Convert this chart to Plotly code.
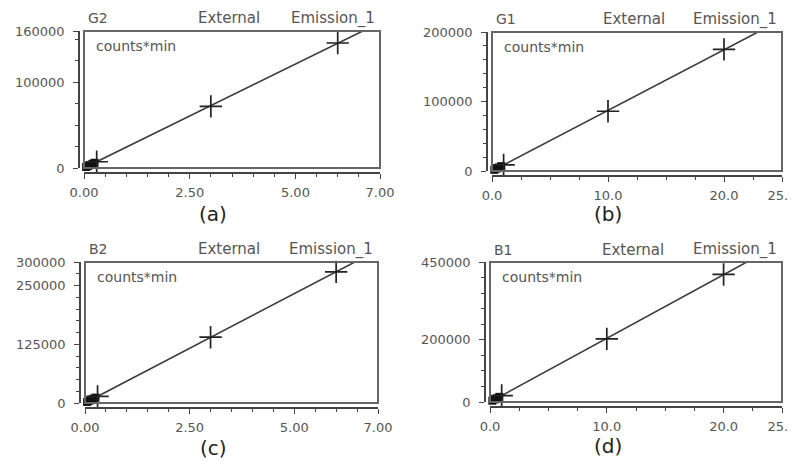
import numpy as np
import plotly.graph_objects as go

# page body has an 8px margin, so the figure is drawn 8px in from the window corner
OFF = 8
W, H = 795 - OFF, 461 - OFF

# ---------------- data ----------------
panel_names = ["G2", "G1", "B2", "B1"]
panel_captions = ["(a)", "(b)", "(c)", "(d)"]
header_mid = "External"
header_right = "Emission_1"
inner_label = "counts*min"

# low-concentration calibration points (dense cluster near origin)
a_low_x = [0.05, 0.1, 0.15, 0.2, 0.25]
a_low_y = [1200, 2400, 3600, 4900, 6100]
b_low_x = [0.2, 0.4, 0.6, 0.8]
b_low_y = [1700, 3500, 5200, 7000]
c_low_x = [0.05, 0.1, 0.15, 0.2, 0.25]
c_low_y = [2300, 4600, 6900, 9200, 11500]
d_low_x = [0.2, 0.4, 0.6, 0.8]
d_low_y = [4100, 8300, 12400, 16600]

# standards marked with crosses
a_std_x = [0.3, 3.0, 6.0]
a_std_y = [7300, 72000, 146000]
b_std_x = [1.0, 10.0, 20.0]
b_std_y = [8700, 86000, 175000]
c_std_x = [0.3, 3.0, 6.0]
c_std_y = [13900, 140000, 279000]
d_std_x = [1.0, 10.0, 20.0]
d_std_y = [20700, 203000, 410000]

# axis ranges and tick labels
a_xrange, a_yrange = [0, 7], [0, 160000]
b_xrange, b_yrange = [0, 25], [0, 200000]
c_xrange, c_yrange = [0, 7], [0, 300000]
d_xrange, d_yrange = [0, 25], [0, 450000]

a_xticks, a_xlabels = [0, 2.5, 5, 7], ["0.00", "2.50", "5.00", "7.00"]
b_xticks, b_xlabels = [0, 10, 20, 25], ["0.0", "10.0", "20.0", "25.0"]
c_xticks, c_xlabels = [0, 2.5, 5, 7], ["0.00", "2.50", "5.00", "7.00"]
d_xticks, d_xlabels = [0, 10, 20, 25], ["0.0", "10.0", "20.0", "25.0"]

a_yticks = [0, 100000, 160000]
b_yticks = [0, 100000, 200000]
c_yticks = [0, 125000, 250000, 300000]
d_yticks = [0, 200000, 450000]

panels = [
    dict(low=(a_low_x, a_low_y), std=(a_std_x, a_std_y), xr=a_xrange, yr=a_yrange,
         xt=(a_xticks, a_xlabels), yt=a_yticks),
    dict(low=(b_low_x, b_low_y), std=(b_std_x, b_std_y), xr=b_xrange, yr=b_yrange,
         xt=(b_xticks, b_xlabels), yt=b_yticks),
    dict(low=(c_low_x, c_low_y), std=(c_std_x, c_std_y), xr=c_xrange, yr=c_yrange,
         xt=(c_xticks, c_xlabels), yt=c_yticks),
    dict(low=(d_low_x, d_low_y), std=(d_std_x, d_std_y), xr=d_xrange, yr=d_yrange,
         xt=(d_xticks, d_xlabels), yt=d_yticks),
]

# ---------------- geometry / style (window pixels) ----------------
geo = [
    dict(box=(84, 380, 31, 168), yax=79, xax=173, head_y=18, cap=(213, 214),
         xminor=0.5, yminor=25000),
    dict(box=(492, 782, 32, 171), yax=487, xax=176, head_y=19, cap=(608, 214),
         xminor=2.5, yminor=20000),
    dict(box=(85, 378, 262, 403), yax=80, xax=408, head_y=249, cap=(213, 448),
         xminor=0.5, yminor=25000),
    dict(box=(490, 782, 262, 402), yax=485, xax=407, head_y=250, cap=(608, 446),
         xminor=2.5, yminor=50000),
]

FONT = "DejaVu Sans"
TXT = "#555555"
AX = "#444444"


def fx(px):
    return (px - OFF) / W


def fy(py):
    return 1 - (py - OFF) / H


fig = go.Figure()
layout = dict(
    width=W, height=H,
    margin=dict(l=0, r=0, t=0, b=0, autoexpand=False),
    paper_bgcolor="white", plot_bgcolor="white",
    showlegend=False,
    font=dict(family=FONT, size=13, color=TXT),
    shapes=[], annotations=[],
)

for i, (p, g) in enumerate(zip(panels, geo)):
    n = "" if i == 0 else str(i + 1)
    xa, ya = "x" + n, "y" + n
    l, r, t, b = g["box"]

    std_x = np.array(p["std"][0], dtype=float)
    std_y = np.array(p["std"][1], dtype=float)
    low_x = np.array(p["low"][0], dtype=float)
    low_y = np.array(p["low"][1], dtype=float)
    all_x = np.concatenate([low_x, std_x])
    all_y = np.concatenate([low_y, std_y])
    slope = float(np.sum(all_x * all_y) / np.sum(all_x * all_x))
    line_x = np.linspace(p["xr"][0], p["xr"][1], 50)
    line_y = slope * line_x

    fig.add_trace(go.Scatter(x=line_x, y=line_y, mode="lines", xaxis=xa, yaxis=ya,
                             line=dict(color="#3a3a3a", width=1.6), hoverinfo="skip"))
    fig.add_trace(go.Scatter(x=low_x, y=low_y, mode="markers", xaxis=xa, yaxis=ya,
                             cliponaxis=False,
                             marker=dict(symbol="square", size=8, color="#111111")))
    fig.add_trace(go.Scatter(x=std_x, y=std_y, mode="markers", xaxis=xa, yaxis=ya,
                             cliponaxis=False,
                             marker=dict(symbol="cross-thin", size=16,
                                         line=dict(color="#222222", width=1.7))))

    layout["xaxis" + n] = dict(
        domain=[fx(l), fx(r)], anchor="free", position=fy(g["xax"]),
        range=p["xr"], showgrid=False, zeroline=False, automargin=False,
        showline=True, linecolor=AX, linewidth=1.5,
        ticks="outside", ticklen=5, tickwidth=1.2, tickcolor=AX,
        tickmode="array", tickvals=p["xt"][0], ticktext=p["xt"][1],
        tickfont=dict(family=FONT, size=13, color=TXT),
        ticklabelstandoff=3, ticklabeloverflow="allow",
        minor=dict(ticks="outside", ticklen=3, dtick=g["xminor"], tick0=0,
                   tickcolor=AX, tickwidth=1),
    )
    layout["yaxis" + n] = dict(
        domain=[fy(b), fy(t)], anchor="free", position=fx(g["yax"]),
        range=p["yr"], showgrid=False, zeroline=False, automargin=False,
        showline=True, linecolor=AX, linewidth=1.5,
        ticks="outside", ticklen=5, tickwidth=1.2, tickcolor=AX,
        tickmode="array", tickvals=p["yt"], ticktext=[str(v) for v in p["yt"]],
        tickfont=dict(family=FONT, size=13, color=TXT),
        ticklabelstandoff=6, ticklabeloverflow="allow",
        minor=dict(ticks="outside", ticklen=3, dtick=g["yminor"], tick0=0,
                   tickcolor=AX, tickwidth=1),
    )

    layout["shapes"].append(dict(type="rect", xref="paper", yref="paper",
                                 x0=fx(l), x1=fx(r), y0=fy(b), y1=fy(t),
                                 line=dict(color="#666666", width=2), layer="above"))

    hy = fy(g["head_y"])
    layout["annotations"] += [
        dict(text=panel_names[i], x=fx(l + 2), y=hy, xref="paper", yref="paper",
             xanchor="left", yanchor="middle", showarrow=False,
             font=dict(family=FONT, size=14, color=TXT)),
        dict(text=header_mid, x=fx(l + (r - l) * 0.49), y=hy, xref="paper", yref="paper",
             xanchor="center", yanchor="middle", showarrow=False,
             font=dict(family=FONT, size=15, color=TXT)),
        dict(text=header_right, x=fx(r - 3), y=hy, xref="paper", yref="paper",
             xanchor="right", yanchor="middle", showarrow=False,
             font=dict(family=FONT, size=15, color=TXT)),
        dict(text=inner_label, x=fx(l + 10), y=fy(t + 15), xref="paper", yref="paper",
             xanchor="left", yanchor="middle", showarrow=False,
             font=dict(family=FONT, size=14, color=TXT)),
        dict(text=panel_captions[i], x=fx(g["cap"][0]), y=fy(g["cap"][1]),
             xref="paper", yref="paper", xanchor="center", yanchor="middle",
             showarrow=False, font=dict(family=FONT, size=20, color="#222222")),
    ]

fig.update_layout(**layout)
fig.write_html("out.html")
